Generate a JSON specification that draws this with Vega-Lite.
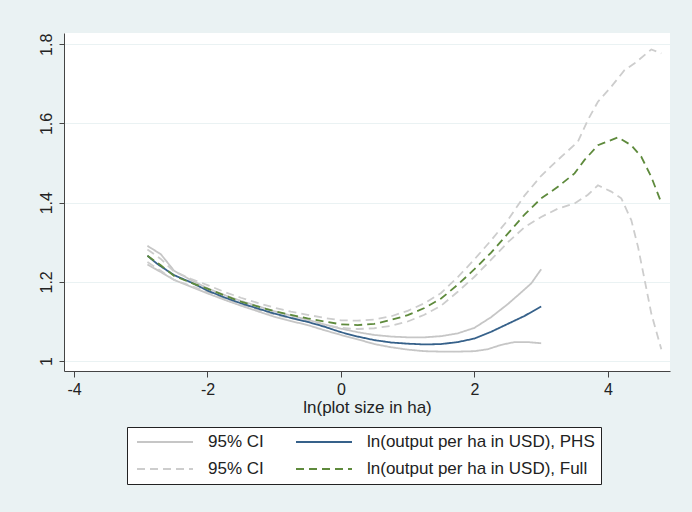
{
  "$schema": "https://vega.github.io/schema/vega-lite/v6.json",
  "width": 606,
  "height": 338,
  "autosize": "none",
  "padding": {"left": 64, "top": 33, "right": 22, "bottom": 141},
  "background": "#eaf2f3",
  "config": {
    "view": {"fill": "white", "stroke": null},
    "font": "Liberation Sans",
    "axis": {"labelFont": "Liberation Sans", "titleFont": "Liberation Sans", "labelColor": "#222", "titleColor": "#222", "domainColor": "#444", "tickColor": "#444", "labelFontSize": 16, "titleFontSize": 17, "titleFontWeight": "normal"}
  },
  "datasets": {
    "lines": [
      {"x": -2.9, "y": 1.291, "series": "ciPHS", "line": "phsU"},
      {"x": -2.7, "y": 1.27, "series": "ciPHS", "line": "phsU"},
      {"x": -2.5, "y": 1.228, "series": "ciPHS", "line": "phsU"},
      {"x": -2.25, "y": 1.205, "series": "ciPHS", "line": "phsU"},
      {"x": -2.0, "y": 1.184, "series": "ciPHS", "line": "phsU"},
      {"x": -1.75, "y": 1.167, "series": "ciPHS", "line": "phsU"},
      {"x": -1.5, "y": 1.152, "series": "ciPHS", "line": "phsU"},
      {"x": -1.25, "y": 1.139, "series": "ciPHS", "line": "phsU"},
      {"x": -1.0, "y": 1.126, "series": "ciPHS", "line": "phsU"},
      {"x": -0.75, "y": 1.115, "series": "ciPHS", "line": "phsU"},
      {"x": -0.5, "y": 1.104, "series": "ciPHS", "line": "phsU"},
      {"x": -0.25, "y": 1.093, "series": "ciPHS", "line": "phsU"},
      {"x": 0.0, "y": 1.082, "series": "ciPHS", "line": "phsU"},
      {"x": 0.25, "y": 1.073, "series": "ciPHS", "line": "phsU"},
      {"x": 0.5, "y": 1.066, "series": "ciPHS", "line": "phsU"},
      {"x": 0.75, "y": 1.062, "series": "ciPHS", "line": "phsU"},
      {"x": 1.0, "y": 1.06, "series": "ciPHS", "line": "phsU"},
      {"x": 1.25, "y": 1.06, "series": "ciPHS", "line": "phsU"},
      {"x": 1.5, "y": 1.063, "series": "ciPHS", "line": "phsU"},
      {"x": 1.75, "y": 1.07, "series": "ciPHS", "line": "phsU"},
      {"x": 2.0, "y": 1.084, "series": "ciPHS", "line": "phsU"},
      {"x": 2.25, "y": 1.111, "series": "ciPHS", "line": "phsU"},
      {"x": 2.5, "y": 1.144, "series": "ciPHS", "line": "phsU"},
      {"x": 2.65, "y": 1.166, "series": "ciPHS", "line": "phsU"},
      {"x": 2.85, "y": 1.196, "series": "ciPHS", "line": "phsU"},
      {"x": 3.0, "y": 1.232, "series": "ciPHS", "line": "phsU"},

      {"x": -2.9, "y": 1.244, "series": "ciPHS", "line": "phsL"},
      {"x": -2.7, "y": 1.225, "series": "ciPHS", "line": "phsL"},
      {"x": -2.5, "y": 1.205, "series": "ciPHS", "line": "phsL"},
      {"x": -2.25, "y": 1.188, "series": "ciPHS", "line": "phsL"},
      {"x": -2.0, "y": 1.171, "series": "ciPHS", "line": "phsL"},
      {"x": -1.75, "y": 1.155, "series": "ciPHS", "line": "phsL"},
      {"x": -1.5, "y": 1.14, "series": "ciPHS", "line": "phsL"},
      {"x": -1.25, "y": 1.126, "series": "ciPHS", "line": "phsL"},
      {"x": -1.0, "y": 1.112, "series": "ciPHS", "line": "phsL"},
      {"x": -0.75, "y": 1.101, "series": "ciPHS", "line": "phsL"},
      {"x": -0.5, "y": 1.091, "series": "ciPHS", "line": "phsL"},
      {"x": -0.25, "y": 1.078, "series": "ciPHS", "line": "phsL"},
      {"x": 0.0, "y": 1.066, "series": "ciPHS", "line": "phsL"},
      {"x": 0.25, "y": 1.055, "series": "ciPHS", "line": "phsL"},
      {"x": 0.5, "y": 1.043, "series": "ciPHS", "line": "phsL"},
      {"x": 0.75, "y": 1.035, "series": "ciPHS", "line": "phsL"},
      {"x": 1.0, "y": 1.029, "series": "ciPHS", "line": "phsL"},
      {"x": 1.25, "y": 1.025, "series": "ciPHS", "line": "phsL"},
      {"x": 1.5, "y": 1.024, "series": "ciPHS", "line": "phsL"},
      {"x": 1.75, "y": 1.024, "series": "ciPHS", "line": "phsL"},
      {"x": 2.0, "y": 1.025, "series": "ciPHS", "line": "phsL"},
      {"x": 2.2, "y": 1.03, "series": "ciPHS", "line": "phsL"},
      {"x": 2.4, "y": 1.041, "series": "ciPHS", "line": "phsL"},
      {"x": 2.6, "y": 1.048, "series": "ciPHS", "line": "phsL"},
      {"x": 2.8, "y": 1.048, "series": "ciPHS", "line": "phsL"},
      {"x": 3.0, "y": 1.045, "series": "ciPHS", "line": "phsL"},

      {"x": -2.9, "y": 1.282, "series": "ciFull", "line": "fullU"},
      {"x": -2.7, "y": 1.258, "series": "ciFull", "line": "fullU"},
      {"x": -2.5, "y": 1.226, "series": "ciFull", "line": "fullU"},
      {"x": -2.25, "y": 1.208, "series": "ciFull", "line": "fullU"},
      {"x": -2.0, "y": 1.192, "series": "ciFull", "line": "fullU"},
      {"x": -1.75, "y": 1.175, "series": "ciFull", "line": "fullU"},
      {"x": -1.5, "y": 1.16, "series": "ciFull", "line": "fullU"},
      {"x": -1.25, "y": 1.147, "series": "ciFull", "line": "fullU"},
      {"x": -1.0, "y": 1.135, "series": "ciFull", "line": "fullU"},
      {"x": -0.75, "y": 1.125, "series": "ciFull", "line": "fullU"},
      {"x": -0.5, "y": 1.117, "series": "ciFull", "line": "fullU"},
      {"x": -0.25, "y": 1.109, "series": "ciFull", "line": "fullU"},
      {"x": 0.0, "y": 1.103, "series": "ciFull", "line": "fullU"},
      {"x": 0.25, "y": 1.102, "series": "ciFull", "line": "fullU"},
      {"x": 0.5, "y": 1.105, "series": "ciFull", "line": "fullU"},
      {"x": 0.75, "y": 1.113, "series": "ciFull", "line": "fullU"},
      {"x": 1.0, "y": 1.127, "series": "ciFull", "line": "fullU"},
      {"x": 1.25, "y": 1.146, "series": "ciFull", "line": "fullU"},
      {"x": 1.5, "y": 1.172, "series": "ciFull", "line": "fullU"},
      {"x": 1.75, "y": 1.212, "series": "ciFull", "line": "fullU"},
      {"x": 2.0, "y": 1.257, "series": "ciFull", "line": "fullU"},
      {"x": 2.25, "y": 1.305, "series": "ciFull", "line": "fullU"},
      {"x": 2.5, "y": 1.356, "series": "ciFull", "line": "fullU"},
      {"x": 2.75, "y": 1.418, "series": "ciFull", "line": "fullU"},
      {"x": 3.0, "y": 1.468, "series": "ciFull", "line": "fullU"},
      {"x": 3.25, "y": 1.508, "series": "ciFull", "line": "fullU"},
      {"x": 3.55, "y": 1.554, "series": "ciFull", "line": "fullU"},
      {"x": 3.7, "y": 1.609, "series": "ciFull", "line": "fullU"},
      {"x": 3.85, "y": 1.655, "series": "ciFull", "line": "fullU"},
      {"x": 4.05, "y": 1.693, "series": "ciFull", "line": "fullU"},
      {"x": 4.25, "y": 1.735, "series": "ciFull", "line": "fullU"},
      {"x": 4.4, "y": 1.752, "series": "ciFull", "line": "fullU"},
      {"x": 4.65, "y": 1.787, "series": "ciFull", "line": "fullU"},
      {"x": 4.8, "y": 1.777, "series": "ciFull", "line": "fullU"},

      {"x": -2.9, "y": 1.25, "series": "ciFull", "line": "fullL"},
      {"x": -2.7, "y": 1.228, "series": "ciFull", "line": "fullL"},
      {"x": -2.5, "y": 1.205, "series": "ciFull", "line": "fullL"},
      {"x": -2.25, "y": 1.19, "series": "ciFull", "line": "fullL"},
      {"x": -2.0, "y": 1.175, "series": "ciFull", "line": "fullL"},
      {"x": -1.75, "y": 1.158, "series": "ciFull", "line": "fullL"},
      {"x": -1.5, "y": 1.142, "series": "ciFull", "line": "fullL"},
      {"x": -1.25, "y": 1.13, "series": "ciFull", "line": "fullL"},
      {"x": -1.0, "y": 1.118, "series": "ciFull", "line": "fullL"},
      {"x": -0.75, "y": 1.108, "series": "ciFull", "line": "fullL"},
      {"x": -0.5, "y": 1.099, "series": "ciFull", "line": "fullL"},
      {"x": -0.25, "y": 1.091, "series": "ciFull", "line": "fullL"},
      {"x": 0.0, "y": 1.084, "series": "ciFull", "line": "fullL"},
      {"x": 0.25, "y": 1.081, "series": "ciFull", "line": "fullL"},
      {"x": 0.5, "y": 1.083, "series": "ciFull", "line": "fullL"},
      {"x": 0.75, "y": 1.089, "series": "ciFull", "line": "fullL"},
      {"x": 1.0, "y": 1.1, "series": "ciFull", "line": "fullL"},
      {"x": 1.25, "y": 1.117, "series": "ciFull", "line": "fullL"},
      {"x": 1.5, "y": 1.14, "series": "ciFull", "line": "fullL"},
      {"x": 1.75, "y": 1.175, "series": "ciFull", "line": "fullL"},
      {"x": 2.0, "y": 1.213, "series": "ciFull", "line": "fullL"},
      {"x": 2.25, "y": 1.256, "series": "ciFull", "line": "fullL"},
      {"x": 2.5, "y": 1.3, "series": "ciFull", "line": "fullL"},
      {"x": 2.75, "y": 1.338, "series": "ciFull", "line": "fullL"},
      {"x": 3.0, "y": 1.364, "series": "ciFull", "line": "fullL"},
      {"x": 3.25, "y": 1.385, "series": "ciFull", "line": "fullL"},
      {"x": 3.5, "y": 1.398, "series": "ciFull", "line": "fullL"},
      {"x": 3.7, "y": 1.42, "series": "ciFull", "line": "fullL"},
      {"x": 3.85, "y": 1.444, "series": "ciFull", "line": "fullL"},
      {"x": 4.05, "y": 1.428, "series": "ciFull", "line": "fullL"},
      {"x": 4.2, "y": 1.411, "series": "ciFull", "line": "fullL"},
      {"x": 4.35, "y": 1.356, "series": "ciFull", "line": "fullL"},
      {"x": 4.45, "y": 1.289, "series": "ciFull", "line": "fullL"},
      {"x": 4.55, "y": 1.205, "series": "ciFull", "line": "fullL"},
      {"x": 4.65, "y": 1.12, "series": "ciFull", "line": "fullL"},
      {"x": 4.8, "y": 1.03, "series": "ciFull", "line": "fullL"},

      {"x": -2.9, "y": 1.266, "series": "PHS", "line": "phs"},
      {"x": -2.75, "y": 1.245, "series": "PHS", "line": "phs"},
      {"x": -2.5, "y": 1.217, "series": "PHS", "line": "phs"},
      {"x": -2.25, "y": 1.199, "series": "PHS", "line": "phs"},
      {"x": -2.0, "y": 1.178, "series": "PHS", "line": "phs"},
      {"x": -1.75, "y": 1.161, "series": "PHS", "line": "phs"},
      {"x": -1.5, "y": 1.146, "series": "PHS", "line": "phs"},
      {"x": -1.25, "y": 1.133, "series": "PHS", "line": "phs"},
      {"x": -1.0, "y": 1.12, "series": "PHS", "line": "phs"},
      {"x": -0.75, "y": 1.109, "series": "PHS", "line": "phs"},
      {"x": -0.5, "y": 1.099, "series": "PHS", "line": "phs"},
      {"x": -0.25, "y": 1.087, "series": "PHS", "line": "phs"},
      {"x": 0.0, "y": 1.073, "series": "PHS", "line": "phs"},
      {"x": 0.25, "y": 1.062, "series": "PHS", "line": "phs"},
      {"x": 0.5, "y": 1.053, "series": "PHS", "line": "phs"},
      {"x": 0.75, "y": 1.047, "series": "PHS", "line": "phs"},
      {"x": 1.0, "y": 1.044, "series": "PHS", "line": "phs"},
      {"x": 1.25, "y": 1.042, "series": "PHS", "line": "phs"},
      {"x": 1.5, "y": 1.043, "series": "PHS", "line": "phs"},
      {"x": 1.75, "y": 1.048, "series": "PHS", "line": "phs"},
      {"x": 2.0, "y": 1.057, "series": "PHS", "line": "phs"},
      {"x": 2.25, "y": 1.074, "series": "PHS", "line": "phs"},
      {"x": 2.5, "y": 1.094, "series": "PHS", "line": "phs"},
      {"x": 2.75, "y": 1.114, "series": "PHS", "line": "phs"},
      {"x": 3.0, "y": 1.138, "series": "PHS", "line": "phs"},

      {"x": -2.9, "y": 1.266, "series": "Full", "line": "full"},
      {"x": -2.7, "y": 1.242, "series": "Full", "line": "full"},
      {"x": -2.5, "y": 1.215, "series": "Full", "line": "full"},
      {"x": -2.25, "y": 1.198, "series": "Full", "line": "full"},
      {"x": -2.0, "y": 1.183, "series": "Full", "line": "full"},
      {"x": -1.75, "y": 1.166, "series": "Full", "line": "full"},
      {"x": -1.5, "y": 1.15, "series": "Full", "line": "full"},
      {"x": -1.25, "y": 1.138, "series": "Full", "line": "full"},
      {"x": -1.0, "y": 1.126, "series": "Full", "line": "full"},
      {"x": -0.75, "y": 1.117, "series": "Full", "line": "full"},
      {"x": -0.5, "y": 1.108, "series": "Full", "line": "full"},
      {"x": -0.25, "y": 1.1, "series": "Full", "line": "full"},
      {"x": 0.0, "y": 1.093, "series": "Full", "line": "full"},
      {"x": 0.25, "y": 1.091, "series": "Full", "line": "full"},
      {"x": 0.5, "y": 1.094, "series": "Full", "line": "full"},
      {"x": 0.75, "y": 1.104, "series": "Full", "line": "full"},
      {"x": 1.0, "y": 1.116, "series": "Full", "line": "full"},
      {"x": 1.25, "y": 1.134, "series": "Full", "line": "full"},
      {"x": 1.5, "y": 1.158, "series": "Full", "line": "full"},
      {"x": 1.75, "y": 1.193, "series": "Full", "line": "full"},
      {"x": 2.0, "y": 1.232, "series": "Full", "line": "full"},
      {"x": 2.25, "y": 1.274, "series": "Full", "line": "full"},
      {"x": 2.5, "y": 1.322, "series": "Full", "line": "full"},
      {"x": 2.75, "y": 1.37, "series": "Full", "line": "full"},
      {"x": 3.0, "y": 1.411, "series": "Full", "line": "full"},
      {"x": 3.25, "y": 1.44, "series": "Full", "line": "full"},
      {"x": 3.5, "y": 1.474, "series": "Full", "line": "full"},
      {"x": 3.65, "y": 1.508, "series": "Full", "line": "full"},
      {"x": 3.85, "y": 1.545, "series": "Full", "line": "full"},
      {"x": 4.15, "y": 1.565, "series": "Full", "line": "full"},
      {"x": 4.35, "y": 1.545, "series": "Full", "line": "full"},
      {"x": 4.5, "y": 1.516, "series": "Full", "line": "full"},
      {"x": 4.65, "y": 1.465, "series": "Full", "line": "full"},
      {"x": 4.8, "y": 1.4, "series": "Full", "line": "full"}
    ]
  },
  "data": {"name": "lines"},
  "mark": {"type": "line", "strokeWidth": 1.8, "clip": true},
  "encoding": {
    "x": {
      "field": "x", "type": "quantitative",
      "scale": {"domain": [-4.15, 4.93], "nice": false, "zero": false},
      "axis": {"values": [-4, -2, 0, 2, 4], "grid": false, "title": "ln(plot size in ha)", "tickSize": 6, "labelPadding": 4, "titlePadding": 2, "labelExpr": "toString(datum.value)"}
    },
    "y": {
      "field": "y", "type": "quantitative",
      "scale": {"domain": [0.975, 1.8285], "nice": false, "zero": false},
      "axis": {"values": [1, 1.2, 1.4, 1.6, 1.8], "grid": true, "gridColor": "#eaf2f3", "gridWidth": 1, "title": null, "tickSize": 5, "labelAngle": -90, "labelAlign": "center", "labelBaseline": "bottom", "labelPadding": 5, "format": "~g", "domainWidth": 1}
    },
    "detail": {"field": "line"},
    "color": {
      "field": "series", "type": "nominal",
      "scale": {"domain": ["ciPHS", "PHS", "ciFull", "Full"], "range": ["#c6c6c6", "#36618a", "#cdcdcd", "#5e8a3c"]},
      "legend": {
        "orient": "none", "legendX": 63, "legendY": 394, "columns": 2, "title": null,
        "direction": "horizontal",
        "fillColor": "white", "strokeColor": "#222", "padding": 6,
        "symbolType": "stroke", "symbolSize": 3136, "symbolStrokeWidth": 2, "symbolOffset": 3,
        "clipHeight": 18,
        "labelFontSize": 17, "labelFont": "Liberation Sans", "labelColor": "#222", "labelOffset": 14, "labelLimit": 320,
        "columnPadding": 28, "rowPadding": 9,
        "labelExpr": "datum.value == 'PHS' ? 'ln(output per ha in USD), PHS' : datum.value == 'Full' ? 'ln(output per ha in USD), Full' : '95% CI'"
      }
    },
    "strokeDash": {
      "field": "series", "type": "nominal",
      "scale": {"domain": ["ciPHS", "PHS", "ciFull", "Full"], "range": [[1, 0], [1, 0], [8, 5], [8, 5]]},
      "legend": {
        "orient": "none", "legendX": 63, "legendY": 394, "columns": 2, "title": null
      }
    }
  }
}
